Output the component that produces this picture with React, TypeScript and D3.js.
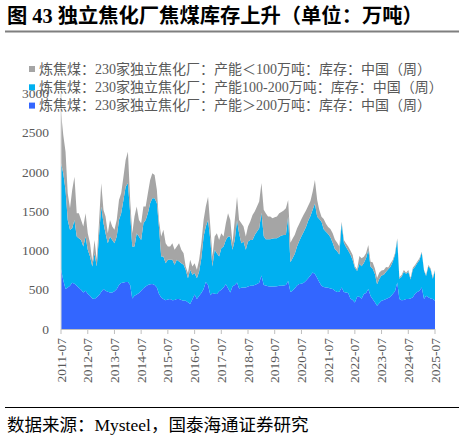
import React from "react";
import * as d3 from "d3";

// tick labels on the date axis, one per July
const tickLabels = [
  "2011-07", "2012-07", "2013-07", "2014-07", "2015-07", "2016-07", "2017-07", "2018-07",
  "2019-07", "2020-07", "2021-07", "2022-07", "2023-07", "2024-07", "2025-07",
];
const yTicks = [0, 500, 1000, 1500, 2000, 2500, 3000];

// monthly readings from 2011-07 to 2025-07 (万吨)
const over200 = [
  760, 620, 510, 530, 551, 590, 575, 551, 525, 500,
  466, 487, 450, 424, 390, 381, 403, 430, 470, 508,
  487, 475, 466, 466, 480, 508, 560, 585, 593, 600,
  600, 560, 390, 424, 440, 460, 487, 520, 540, 559,
  570, 572, 560, 530, 450, 400, 381, 365, 375, 381,
  365, 370, 381, 381, 370, 360, 360, 340, 318, 380,
  440, 381, 424, 460, 508, 600, 560, 430, 460, 450,
  445, 480, 500, 530, 570, 520, 466, 540, 560, 593,
  515, 525, 530, 530, 540, 551, 551, 560, 572, 590,
  680, 560, 555, 545, 542, 542, 542, 545, 551, 551,
  555, 560, 610, 470, 487, 520, 555, 572, 575, 590,
  614, 645, 680, 720, 700, 650, 600, 551, 535, 530,
  525, 515, 508, 487, 470, 475, 530, 470, 466, 460,
  390, 370, 339, 410, 412, 385, 445, 460, 508, 420,
  381, 340, 297, 330, 360, 370, 381, 395, 410, 445,
  480, 593, 381, 365, 370, 381, 381, 390, 403, 450,
  470, 487, 530, 381, 424, 403, 390, 381, 360,
];
const mid100to200 = [
  1350, 1363, 1261, 860, 712, 694, 815, 627, 632, 635,
  585, 691, 558, 500, 407, 585, 394, 748, 1089, 839,
  733, 618, 712, 669, 613, 670, 830, 889, 1051, 1213,
  1256, 914, 661, 627, 780, 718, 648, 827, 850, 915,
  1032, 1093, 1105, 1072, 855, 524, 543, 474, 506, 500,
  516, 448, 500, 479, 469, 458, 394, 308, 436, 310,
  272, 267, 309, 442, 670, 705, 830, 705, 337, 558,
  521, 444, 530, 521, 565, 658, 712, 468, 575, 797,
  705, 568, 584, 478, 574, 584, 584, 639, 669, 694,
  800, 620, 589, 599, 602, 610, 615, 612, 625, 639,
  643, 638, 821, 380, 413, 440, 495, 548, 605, 650,
  686, 735, 760, 800, 900, 781, 800, 816, 735, 710,
  685, 655, 592, 533, 520, 475, 816, 630, 583, 540,
  560, 510, 441, 330, 418, 415, 395, 440, 498, 374,
  389, 360, 273, 310, 320, 320, 349, 365, 384, 413,
  463, 541, 259, 302, 360, 324, 349, 240, 357, 344,
  370, 393, 443, 362, 251, 397, 370, 259, 383,
];
const under100 = [
  650, 487, 487, 339, 275, 487, 550, 296, 317, 255,
  254, 296, 212, 169, 63, 169, 84, 169, 297, 170,
  212, 127, 212, 170, 170, 212, 254, 255, 296, 339,
  402, 170, 169, 381, 339, 212, 212, 212, 169, 255,
  296, 318, 297, 169, 85, 254, 339, 254, 170, 170,
  212, 190, 170, 233, 169, 148, 43, 64, 127, 107,
  127, 106, 148, 191, 212, 254, 296, 170, 127, 170,
  254, 211, 190, 127, 212, 296, 212, 85, 255, 296,
  170, 254, 191, 170, 191, 234, 318, 297, 318, 339,
  380, 340, 330, 288, 288, 259, 267, 275, 298, 300,
  312, 339, 213, 250, 250, 240, 230, 220, 220, 220,
  210, 190, 190, 230, 298, 213, 120, 64, 130, 100,
  90, 105, 120, 120, 110, 100, 21, 34, 42, 50,
  50, 63, 20, 20, 100, 100, 80, 64, 64, 64,
  80, 70, 80, 80, 65, 62, 60, 25, 43, 21,
  21, 21, 20, 21, 22, 10, 22, 20, 20, 21,
  20, 20, 12, 9, 13, 15, 13, 20, 9,
];

const legendLabels = [
  "炼焦煤：230家独立焦化厂：产能＜100万吨：库存：中国（周）",
  "炼焦煤：230家独立焦化厂：产能100-200万吨：库存：中国（周）",
  "炼焦煤：230家独立焦化厂：产能＞200万吨：库存：中国（周）",
];
const legendColors = ["#A5A5A5", "#00B0F0", "#3366FF"];

const serif = "'Times New Roman', 'Liberation Serif', 'Noto Sans CJK SC', serif";
const textGray = "#595959";

type Row = { date: Date; over200: number; mid: number; under100: number };

export default function App() {
  const width = 464, height = 439;
  const left = 61, right = 435, top = 93.5, bottom = 329;

  const dates = d3.timeMonths(new Date(2011, 6, 1), new Date(2025, 7, 1));
  const rows: Row[] = dates.map((d, i) => ({
    date: d,
    over200: over200[i],
    mid: mid100to200[i],
    under100: under100[i],
  }));

  const x = d3.scaleTime()
    .domain([dates[0], dates[dates.length - 1]])
    .range([left, right]);
  const y = d3.scaleLinear().domain([0, 3000]).range([bottom, top]);

  const stacked = d3.stack<Row>().keys(["over200", "mid", "under100"])(rows);
  const area = d3.area<d3.SeriesPoint<Row>>()
    .x(d => x(d.data.date))
    .y0(d => y(d[0]))
    .y1(d => y(d[1]));
  // bottom layer is >200, then 100-200, then <100
  const layerColors = ["#3366FF", "#00B0F0", "#A5A5A5"];

  const parseMonth = d3.timeParse("%Y-%m");

  return (
    <>
      <style>{`body{margin:0}`}</style>
      <svg width={width} height={height} style={{ display: "block", background: "#fff" }}>
        {/* title */}
        <text x={7} y={23} fontFamily={serif} fontSize={20.3} fontWeight={700} fill="#000">
          图 43 独立焦化厂焦煤库存上升（单位：万吨）
        </text>
        <line x1={5} x2={459} y1={31.5} y2={31.5} stroke="#7F7F7F" strokeWidth={2} />

        {/* areas */}
        {stacked.map((s, i) => (
          <path key={s.key} d={area(s) || ""} fill={layerColors[i]} />
        ))}

        {/* y axis */}
        <line x1={left} x2={left} y1={top} y2={bottom} stroke="#D9D9D9" />
        {yTicks.map(t => (
          <text key={t} x={49} y={y(t)} textAnchor="end" dominantBaseline="central"
            fontFamily={serif} fontSize={13.5} fill={textGray}>{t}</text>
        ))}

        {/* x axis */}
        <line x1={left} x2={right} y1={bottom + 0.5} y2={bottom + 0.5} stroke="#BFBFBF" />
        {tickLabels.map(s => {
          const px = x(parseMonth(s) as Date);
          return (
            <g key={s}>
              <line x1={px} x2={px} y1={bottom} y2={bottom + 5} stroke="#BFBFBF" />
              <text transform={`translate(${px},338) rotate(-90)`} textAnchor="end"
                dominantBaseline="central" fontFamily={serif} fontSize={13.5} fill={textGray}>{s}</text>
            </g>
          );
        })}

        {/* legend */}
        {legendLabels.map((l, i) => {
          const cy = 69 + i * 18.3;
          return (
            <g key={l}>
              <rect x={29} y={cy - 3} width={6} height={6} fill={legendColors[i]} />
              <text x={39} y={cy} dominantBaseline="central" fontFamily={serif}
                fontSize={14} fill={textGray}>{l}</text>
            </g>
          );
        })}

        {/* source */}
        <line x1={5} x2={459} y1={407.5} y2={407.5} stroke="#000" strokeWidth={1} />
        <text x={7} y={431} fontFamily={serif} fontSize={17.5} fill="#000">
          数据来源：Mysteel，国泰海通证券研究
        </text>
      </svg>
    </>
  );
}
